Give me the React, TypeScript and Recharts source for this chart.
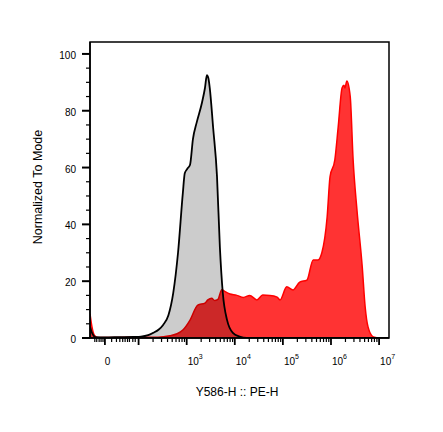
import { ComposedChart, Area, XAxis, YAxis, ReferenceArea } from "recharts";

// x values are in display units of the biexponential axis (10^3 -> 3, 10^4 -> 4 ...)
const grayX = [0.99, 1.04, 1.1, 1.3, 1.6, 1.9, 2.05, 2.2, 2.3, 2.42, 2.51, 2.62, 2.72, 2.82, 2.92, 2.96, 3.01, 3.07, 3.13, 3.21, 3.32, 3.38, 3.42, 3.45, 3.48, 3.55, 3.63, 3.69, 3.75, 3.84, 3.96, 4.1, 4.25, 7.21];
const grayY = [4, 1.5, 0.3, 0.2, 0.3, 0.4, 0.5, 1.0, 1.8, 3.0, 4.6, 8, 15.8, 30, 51, 58, 59.5, 61, 70, 76, 83, 88, 92.5, 91.5, 88, 74, 57, 32, 16, 6.3, 1.8, 0.5, 0, 0];

const redX = [0.99, 1.03, 1.08, 1.15, 1.5, 2.0, 2.4, 2.65, 2.8, 2.92, 3.07, 3.23, 3.38, 3.44, 3.52, 3.58, 3.65, 3.73, 3.8, 3.9, 4.03, 4.18, 4.31, 4.46, 4.58, 4.73, 4.88, 4.94, 5.08, 5.21, 5.35, 5.5, 5.63, 5.73, 5.81, 5.92, 5.98, 6.08, 6.15, 6.23, 6.27, 6.29, 6.33, 6.4, 6.46, 6.54, 6.65, 6.71, 6.77, 6.88, 7.02, 7.21];
const redY = [8.5, 4, 1, 0.2, 0.2, 0.3, 0.3, 0.8, 1.5, 2.8, 6.3, 11.6, 12.3, 13.4, 14, 13.2, 13.6, 17, 16.3, 15.5, 15.1, 14.3, 15, 13.4, 15.1, 15, 14.4, 13.4, 18, 16.9, 19.7, 20.4, 27.5, 27.5, 30, 42.6, 56.7, 62.7, 74.3, 88, 89, 88, 90.5, 85, 62.7, 45, 25, 11, 3.9, 0.4, 0, 0];

const xMajorTicks = [1.3, 2, 3, 4, 5, 6, 7];
const xTickBase = ["0", "", "10", "10", "10", "10", "10"];
const xTickExp = ["", "", "3", "4", "5", "6", "7"];
const xLinearMinor = [1.09, 1.13, 1.18, 1.22, 1.26, 1.44, 1.54, 1.61, 1.67, 1.72, 1.77, 1.81, 1.88, 1.93];
const logDecades = [2, 3, 4, 5, 6];
const logMults = [2, 3, 4, 5, 6, 7, 8, 9];

const yTicks = [0, 5, 10, 15, 20, 25, 30, 35, 40, 45, 50, 55, 60, 65, 70, 75, 80, 85, 90, 95, 100];
const yMajorTicks = [0, 20, 40, 60, 80, 100];

const xAxisTitle = "Y586-H :: PE-H";
const yAxisTitle = "Normalized To Mode";

const grayData = grayX.map((x, i) => ({ x, y: grayY[i] }));
const redData = redX.map((x, i) => ({ x, y: redY[i] }));

const xLogMinor = logDecades.flatMap((k) => logMults.map((m) => k + Math.log10(m)));
const xAllTicks = [...xMajorTicks, ...xLinearMinor, ...xLogMinor].sort((a, b) => a - b);

const FONT = "'Liberation Sans', Arial, sans-serif";

function XTick(props: any) {
  const { x, y, payload } = props;
  const mi = xMajorTicks.indexOf(payload.value);
  const len = mi >= 0 ? 7 : 4;
  return (
    <g>
      <line x1={x} x2={x} y1={y} y2={y + len} stroke="#000" strokeWidth={mi >= 0 ? 1.8 : 1.2} />
      {mi >= 0 && xTickBase[mi] === "0" && (
        <text x={x + 2.5} y={y + 27} fontSize={10} fontFamily={FONT} textAnchor="middle" fill="#000">
          0
        </text>
      )}
      {mi >= 0 && xTickExp[mi] !== "" && (
        <text x={x + 1} y={y + 27} fontSize={10} fontFamily={FONT} textAnchor="start" fill="#000">
          {xTickBase[mi]}
          <tspan dy={-6.5} fontSize={7}>
            {xTickExp[mi]}
          </tspan>
        </text>
      )}
    </g>
  );
}

function YTick(props: any) {
  const { x, y, payload } = props;
  const major = yMajorTicks.includes(payload.value);
  const len = major ? 8 : 4;
  return (
    <g>
      <line x1={x - len} x2={x} y1={y} y2={y} stroke="#000" strokeWidth={major ? 2 : 1.2} />
      {major && (
        <text x={x - 14} y={y + 1.5} dy="0.35em" fontSize={10} fontFamily={FONT} textAnchor="end" fill="#000">
          {payload.value}
        </text>
      )}
    </g>
  );
}

export default function App() {
  return (
    <div style={{ position: "absolute", left: 0, top: 0, width: 443, height: 432, background: "#fff" }}>
      <ComposedChart width={443} height={432} margin={{ top: 42, right: 54, bottom: 93, left: 89 }}>
        <XAxis
          dataKey="x"
          type="number"
          domain={[0.99, 7.206]}
          allowDataOverflow
          ticks={xAllTicks}
          interval={0}
          tick={(p: any) => <XTick {...p} />}
          tickLine={false}
          tickSize={0}
          tickMargin={0}
          height={1}
          axisLine={{ stroke: "#000", strokeWidth: 1.5 }}
        />
        <YAxis
          type="number"
          domain={[0, 104.2]}
          allowDataOverflow
          ticks={yTicks}
          interval={0}
          tick={(p: any) => <YTick {...p} />}
          tickLine={false}
          tickSize={0}
          tickMargin={0}
          width={1}
          axisLine={{ stroke: "#000", strokeWidth: 1.5 }}
        />
        <Area
          data={redData}
          dataKey="y"
          type="monotone"
          stroke="#ff0000"
          strokeWidth={1.5}
          fill="#ff0000"
          fillOpacity={0.8}
          isAnimationActive={false}
          dot={false}
          activeDot={false}
        />
        <Area
          data={grayData}
          dataKey="y"
          type="monotone"
          stroke="#000"
          strokeWidth={1.8}
          fill="#000"
          fillOpacity={0.2}
          isAnimationActive={false}
          dot={false}
          activeDot={false}
        />
        <ReferenceArea x1={0.99} x2={7.206} y1={0} y2={104.2} fill="none" stroke="#000" strokeWidth={1.5} fillOpacity={0} />
      </ComposedChart>
      <svg width={443} height={432} style={{ position: "absolute", left: 0, top: 0, pointerEvents: "none" }}>
        <text x={237} y={396} textAnchor="middle" fontSize={12} fontFamily={FONT} fill="#000">
          {xAxisTitle}
        </text>
        <text x={42} y={187} transform="rotate(-90, 42, 187)" textAnchor="middle" fontSize={12.5} fontFamily={FONT} fill="#000">
          {yAxisTitle}
        </text>
      </svg>
    </div>
  );
}
